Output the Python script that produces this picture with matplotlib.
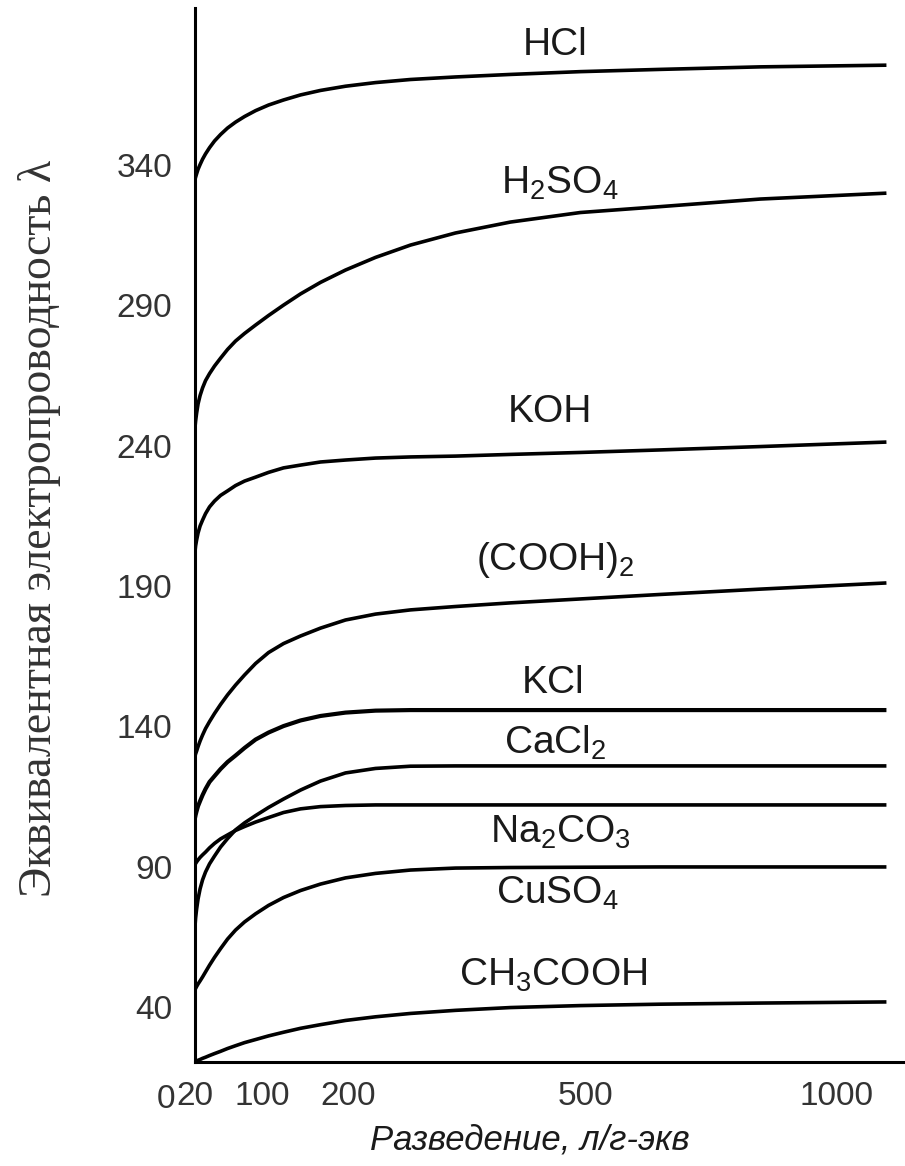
import numpy as np
import matplotlib
matplotlib.use("Agg")
import matplotlib.pyplot as plt
from matplotlib import transforms

plt.rcParams.update({
    "font.family": ["Liberation Sans", "DejaVu Sans"],
    "mathtext.fontset": "custom",
    "mathtext.rm": "Liberation Sans",
    "mathtext.it": "Liberation Sans:italic",
})

# разведение, л/г-экв (общая сетка для всех кривых)
dilution = [20, 21.2, 22.4, 24.1, 26.5, 29.4, 32.9, 37.6, 43.5, 50.6, 58.8, 68.2, 78.8, 91.8,
            107, 124.4, 144.2, 167.4, 196.5, 234.2, 278.5, 335.4, 405.1, 493.7, 649.4, 848.6, 1100]

# эквивалентная электропроводность λ
hcl     = [334.3, 335.7, 336.9, 338.5, 340.2, 342.1, 344.0, 346.2, 348.6, 350.9, 353.2, 355.3, 357.3, 359.4,
           361.4, 363.2, 365.0, 366.6, 368.1, 369.4, 370.5, 371.4, 372.3, 373.3, 374.1, 375.0, 375.6]
h2so4   = [244.9, 248.8, 251.6, 254.9, 257.9, 260.6, 263.2, 265.7, 268.4, 271.2, 274.3, 277.3, 280.0, 283.0,
           286.4, 290.1, 294.1, 298.2, 302.6, 307.1, 311.5, 315.8, 319.7, 323.1, 325.2, 327.9, 330.0]
koh     = [200.7, 204.3, 206.4, 208.9, 211.4, 213.5, 215.8, 218.2, 220.3, 222.3, 223.9, 225.8, 227.4, 228.8,
           230.5, 232.1, 233.1, 234.2, 234.9, 235.6, 236.0, 236.3, 236.9, 237.6, 238.5, 239.7, 241.3]
cooh2   = [128.7, 130.2, 131.2, 132.8, 134.8, 136.9, 139.2, 141.7, 144.6, 147.8, 151.2, 154.7, 158.3, 162.4,
           166.3, 169.5, 172.2, 175.0, 177.9, 180.0, 181.5, 182.7, 184.0, 185.4, 187.0, 188.9, 191.1]
kcl     = [106.6, 108.4, 109.8, 111.6, 113.4, 115.5, 117.7, 120.2, 122.3, 124.8, 127.3, 129.6, 132.3, 135.3,
           137.8, 140.1, 142.1, 143.7, 144.9, 145.6, 145.8, 145.8, 145.8, 145.8, 145.8, 145.8, 145.8]
cacl2   = [66.7, 71.7, 74.9, 78.5, 82.1, 85.3, 88.1, 91.0, 93.8, 97.0, 100.0, 103.1, 105.6, 108.2,
           111.1, 114.1, 117.3, 120.5, 123.4, 125.0, 125.8, 125.9, 125.9, 125.9, 125.9, 125.9, 125.9]
na2co3  = [90.8, 91.1, 91.7, 92.4, 93.3, 94.2, 95.2, 96.7, 98.3, 99.9, 101.3, 102.9, 104.3, 105.9,
           107.5, 109.3, 110.6, 111.4, 111.8, 112.0, 112.0, 112.0, 112.0, 112.0, 112.0, 112.0, 112.0]
cuso4   = [46.1, 46.6, 47.3, 48.2, 49.3, 50.7, 52.5, 54.9, 57.7, 60.8, 64.2, 67.4, 70.3, 73.2,
           76.2, 79.0, 81.5, 83.8, 86.0, 87.6, 88.8, 89.5, 89.7, 89.8, 89.9, 89.9, 89.9]
ch3cooh = [20.4, 20.6, 20.8, 21.0, 21.3, 21.7, 22.1, 22.7, 23.4, 24.2, 25.2, 26.2, 27.3, 28.4,
           29.7, 31.0, 32.4, 33.7, 35.2, 36.5, 37.7, 38.8, 39.8, 40.5, 41.0, 41.4, 41.8]

series = [hcl, h2so4, koh, cooh2, kcl, cacl2, na2co3, cuso4, ch3cooh]
names = ["HCl", r"H$_2$SO$_4$", "KOH", r"(COOH)$_2$", "KCl", r"CaCl$_2$",
         r"Na$_2$CO$_3$", r"CuSO$_4$", r"CH$_3$COOH"]
# положение подписей (разведение, λ)
label_pos = [(462, 382.8), (468, 333.6), (455, 252.0), (462, 199.3), (459, 155.4),
             (462, 134.1), (468, 102.4), (465, 80.6), (459, 51.4)]

x_ticks = [20, 100, 200, 500, 1000]
y_ticks = [40, 90, 140, 190, 240, 290, 340]

# неравномерная шкала разведения, как на рисунке
scale_d = [0, 20, 100, 200, 500, 1000, 1200]
scale_p = [165, 194, 262, 348, 585, 836, 936.4]


def fwd(d):
    return np.interp(d, scale_d, scale_p)


def inv(p):
    return np.interp(p, scale_p, scale_d)


fig = plt.figure(figsize=(9.05, 11.66), dpi=100)
ax = fig.add_axes([0.215, 0.0892, 0.785, 0.904])
ax.set_xscale("function", functions=(fwd, inv))

for y, name, (lx, ly) in zip(series, names, label_pos):
    lw = 3.0 if name == "KCl" else 2.6
    ax.plot(dilution, y, color="black", lw=lw, solid_capstyle="butt", solid_joinstyle="round")
    ax.text(lx, ly, name, ha="center", va="center", fontsize=28, color="#1a1a1a")

ax.set_xlim(20, 1137)
ax.set_ylim(20.4, 396)

for side in ["top", "right"]:
    ax.spines[side].set_visible(False)
for side in ["left", "bottom"]:
    ax.spines[side].set_linewidth(2.2)

ax.set_xticks(x_ticks)
ax.set_xticklabels([str(t) for t in x_ticks])
ax.set_yticks(y_ticks)
ax.set_yticklabels([str(t) for t in y_ticks])
ax.tick_params(length=0, labelsize=24, labelcolor="#333333")
ax.tick_params(axis="x", pad=14)
ax.tick_params(axis="y", pad=16)

# отдельная "0" левее оси
trans = transforms.blended_transform_factory(ax.transData, ax.transAxes)
ax.text(0, -0.036, "0", transform=trans, ha="center", va="center",
        fontsize=24, color="#333333")

fig.text(0.044, 0.547, "Эквивалентная электропроводность λ", rotation=90,
         ha="center", va="center", fontsize=33, family="Liberation Serif",
         color="#333333")
fig.text(0.585, 0.022, "Разведение, л/г-экв", ha="center", va="center",
         fontsize=25, style="italic", color="#1a1a1a")

fig.savefig("out.png", dpi=100)
